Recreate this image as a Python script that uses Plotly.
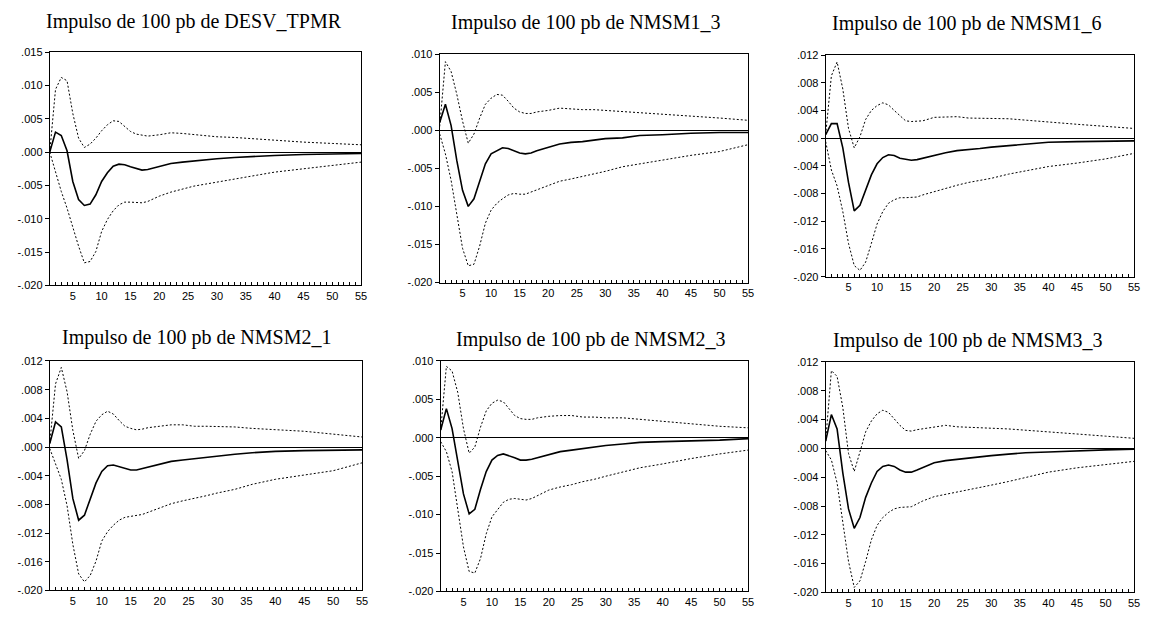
import plotly.graph_objects as go

# ---------------- data ----------------
PERIODS = [1, 2, 3, 4, 5, 6, 7, 8, 9, 10, 11, 12, 13, 14, 15, 16, 17, 18,
           20, 22, 24, 26, 28, 30, 33, 36, 40, 45, 50, 55]

X_TICK_VALS = [5, 10, 15, 20, 25, 30, 35, 40, 45, 50, 55]
X_TICK_TEXT = ["5", "10", "15", "20", "25", "30", "35", "40", "45", "50", "55"]

TITLES = ["Impulso de 100 pb de DESV_TPMR", "Impulso de 100 pb de NMSM1_3",
          "Impulso de 100 pb de NMSM1_6", "Impulso de 100 pb de NMSM2_1",
          "Impulso de 100 pb de NMSM2_3", "Impulso de 100 pb de NMSM3_3"]

Y_TICKS_005_A = [-0.020, -0.015, -0.010, -0.005, 0.000, 0.005, 0.010, 0.015]
Y_TEXT_005_A = ["-.020", "-.015", "-.010", "-.005", ".000", ".005", ".010", ".015"]
Y_TICKS_005_B = [-0.020, -0.015, -0.010, -0.005, 0.000, 0.005, 0.010]
Y_TEXT_005_B = ["-.020", "-.015", "-.010", "-.005", ".000", ".005", ".010"]
Y_TICKS_004 = [-0.020, -0.016, -0.012, -0.008, -0.004, 0.000, 0.004, 0.008, 0.012]
Y_TEXT_004 = ["-.020", "-.016", "-.012", "-.008", "-.004", ".000", ".004", ".008", ".012"]

Y_RANGES = [[-0.020, 0.015], [-0.020, 0.010], [-0.020, 0.012],
            [-0.020, 0.012], [-0.020, 0.010], [-0.020, 0.012]]

# Panel 1: DESV_TPMR
IRF_DESV_TPMR = [0.0000, 0.0030, 0.0025, 0.0002, -0.0044, -0.0071, -0.0080, -0.0078, -0.0064, -0.0044,
                 -0.0031, -0.0021, -0.0018, -0.0019, -0.0022, -0.0025, -0.0027, -0.0026,
                 -0.0021, -0.0017, -0.0015, -0.0013, -0.0012, -0.0010, -0.0008, -0.00065,
                 -0.0005, -0.00035, -0.00025, -0.0002]
UP_DESV_TPMR = [0.0000, 0.0094, 0.0112, 0.0107, 0.0058, 0.0021, 0.0007, 0.0012, 0.0021, 0.0032,
                0.0041, 0.0047, 0.0046, 0.0038, 0.0031, 0.0027, 0.0025, 0.0024,
                0.0026, 0.0029, 0.0028, 0.0026, 0.0024, 0.0023, 0.0022, 0.0020,
                0.0018, 0.0015, 0.0013, 0.0011]
LO_DESV_TPMR = [0.0000, -0.0031, -0.0059, -0.0084, -0.0114, -0.0141, -0.0166, -0.0164, -0.0149, -0.0119,
                -0.0101, -0.0088, -0.0079, -0.0075, -0.0075, -0.0076, -0.0076, -0.0074,
                -0.0066, -0.0060, -0.0055, -0.0051, -0.0048, -0.0045, -0.0040, -0.0035,
                -0.0030, -0.0025, -0.0020, -0.0015]

# Panel 2: NMSM1_3
IRF_NMSM1_3 = [0.0010, 0.0034, 0.0006, -0.0040, -0.0079, -0.0100, -0.0090, -0.0066, -0.0044, -0.0031,
               -0.0027, -0.0023, -0.0024, -0.0027, -0.0030, -0.0031, -0.0030, -0.0027,
               -0.0022, -0.0018, -0.0016, -0.0015, -0.0013, -0.0011, -0.0010, -0.0007,
               -0.0006, -0.0004, -0.0003, -0.0003]
UP_NMSM1_3 = [0.0005, 0.0090, 0.0077, 0.0047, 0.0012, -0.0017, -0.0005, 0.0016, 0.0034, 0.0042,
              0.0047, 0.0046, 0.0038, 0.0029, 0.0024, 0.0022, 0.0022, 0.0024,
              0.0026, 0.0029, 0.0028, 0.0027, 0.0027, 0.0026, 0.0025, 0.0023,
              0.0021, 0.0019, 0.0016, 0.0013]
LO_NMSM1_3 = [-0.0005, -0.0031, -0.0066, -0.0113, -0.0155, -0.0178, -0.0176, -0.0152, -0.0122, -0.0105,
              -0.0096, -0.0090, -0.0085, -0.0083, -0.0084, -0.0084, -0.0081, -0.0078,
              -0.0072, -0.0067, -0.0064, -0.0061, -0.0057, -0.0054, -0.0048, -0.0044,
              -0.0039, -0.0033, -0.0028, -0.0019]

# Panel 3: NMSM1_6
IRF_NMSM1_6 = [0.0005, 0.0021, 0.0021, -0.0014, -0.0064, -0.0105, -0.0097, -0.0076, -0.0053, -0.0037,
               -0.0028, -0.0024, -0.0025, -0.0029, -0.0031, -0.0032, -0.0031, -0.0029,
               -0.0024, -0.0021, -0.0018, -0.0017, -0.0015, -0.0013, -0.0011, -0.0008,
               -0.0006, -0.0005, -0.0004, -0.0004]
UP_NMSM1_6 = [0.0005, 0.0090, 0.0110, 0.0071, 0.0014, -0.0014, 0.0002, 0.0027, 0.0040, 0.0047,
              0.0051, 0.0048, 0.0040, 0.0032, 0.0025, 0.0024, 0.0024, 0.0025,
              0.0030, 0.0031, 0.0031, 0.0029, 0.0029, 0.0029, 0.0028, 0.0026,
              0.0023, 0.0020, 0.0017, 0.0014]
LO_NMSM1_6 = [-0.0005, -0.0046, -0.0069, -0.0106, -0.0152, -0.0184, -0.0191, -0.0179, -0.0152, -0.0124,
              -0.0106, -0.0094, -0.0089, -0.0086, -0.0086, -0.0086, -0.0085, -0.0082,
              -0.0077, -0.0073, -0.0068, -0.0064, -0.0061, -0.0058, -0.0052, -0.0047,
              -0.0041, -0.0036, -0.0030, -0.0022]

# Panel 4: NMSM2_1
IRF_NMSM2_1 = [0.0005, 0.0035, 0.0028, -0.0018, -0.0072, -0.0102, -0.0095, -0.0072, -0.0050, -0.0034,
               -0.0026, -0.0025, -0.0027, -0.0029, -0.0032, -0.0032, -0.0030, -0.0028,
               -0.0024, -0.0020, -0.0018, -0.0016, -0.0015, -0.0013, -0.0010, -0.0008,
               -0.0006, -0.0005, -0.0004, -0.0004]
UP_NMSM2_1 = [0.0005, 0.0088, 0.0111, 0.0077, 0.0023, -0.0016, -0.0005, 0.0018, 0.0036, 0.0045,
              0.0050, 0.0046, 0.0037, 0.0029, 0.0026, 0.0024, 0.0025, 0.0027,
              0.0029, 0.0031, 0.0031, 0.0029, 0.0029, 0.0029, 0.0028, 0.0026,
              0.0024, 0.0022, 0.0018, 0.0014]
LO_NMSM2_1 = [-0.0002, -0.0023, -0.0045, -0.0082, -0.0136, -0.0177, -0.0188, -0.0179, -0.0159, -0.0131,
              -0.0118, -0.0109, -0.0102, -0.0098, -0.0097, -0.0096, -0.0094, -0.0091,
              -0.0085, -0.0079, -0.0075, -0.0072, -0.0068, -0.0064, -0.0059, -0.0052,
              -0.0045, -0.0039, -0.0033, -0.0022]

# Panel 5: NMSM2_3
IRF_NMSM2_3 = [0.0010, 0.0038, 0.0012, -0.0031, -0.0073, -0.0099, -0.0093, -0.0067, -0.0044, -0.0029,
               -0.0023, -0.0021, -0.0023, -0.0026, -0.0029, -0.0029, -0.0028, -0.0026,
               -0.0021, -0.0018, -0.0016, -0.0014, -0.0012, -0.0010, -0.0008, -0.0006,
               -0.0005, -0.0004, -0.0003, -0.0001]
UP_NMSM2_3 = [0.0010, 0.0093, 0.0087, 0.0059, 0.0012, -0.0020, -0.0012, 0.0014, 0.0035, 0.0045,
              0.0049, 0.0047, 0.0038, 0.0029, 0.0025, 0.0024, 0.0024, 0.0026,
              0.0028, 0.0029, 0.0029, 0.0027, 0.0027, 0.0026, 0.0026, 0.0024,
              0.0021, 0.0018, 0.0015, 0.0013]
LO_NMSM2_3 = [-0.0005, -0.0018, -0.0044, -0.0091, -0.0142, -0.0174, -0.0176, -0.0157, -0.0125, -0.0103,
              -0.0093, -0.0084, -0.0080, -0.0079, -0.0080, -0.0081, -0.0079, -0.0075,
              -0.0068, -0.0064, -0.0061, -0.0057, -0.0054, -0.0050, -0.0044, -0.0039,
              -0.0034, -0.0027, -0.0021, -0.0016]

# Panel 6: NMSM3_3
IRF_NMSM3_3 = [0.0010, 0.0047, 0.0027, -0.0034, -0.0084, -0.0111, -0.0096, -0.0068, -0.0048, -0.0032,
               -0.0025, -0.0023, -0.0025, -0.0030, -0.0033, -0.0033, -0.0030, -0.0027,
               -0.0020, -0.0017, -0.0015, -0.0013, -0.0011, -0.0010, -0.0008, -0.0006,
               -0.0005, -0.0003, -0.0002, -0.0001]
UP_NMSM3_3 = [0.0010, 0.0108, 0.0100, 0.0057, -0.0007, -0.0032, -0.0005, 0.0023, 0.0038, 0.0048,
              0.0053, 0.0050, 0.0041, 0.0032, 0.0025, 0.0024, 0.0026, 0.0027,
              0.0030, 0.0032, 0.0030, 0.0029, 0.0028, 0.0028, 0.0027, 0.0025,
              0.0023, 0.0020, 0.0017, 0.0014]
LO_NMSM3_3 = [-0.0003, -0.0016, -0.0048, -0.0102, -0.0157, -0.0193, -0.0184, -0.0157, -0.0127, -0.0107,
              -0.0096, -0.0089, -0.0084, -0.0082, -0.0082, -0.0081, -0.0077, -0.0073,
              -0.0067, -0.0064, -0.0061, -0.0057, -0.0054, -0.0051, -0.0046, -0.0040,
              -0.0033, -0.0027, -0.0023, -0.0018]

PANELS = [
    (IRF_DESV_TPMR, UP_DESV_TPMR, LO_DESV_TPMR, Y_TICKS_005_A, Y_TEXT_005_A),
    (IRF_NMSM1_3, UP_NMSM1_3, LO_NMSM1_3, Y_TICKS_005_B, Y_TEXT_005_B),
    (IRF_NMSM1_6, UP_NMSM1_6, LO_NMSM1_6, Y_TICKS_004, Y_TEXT_004),
    (IRF_NMSM2_1, UP_NMSM2_1, LO_NMSM2_1, Y_TICKS_004, Y_TEXT_004),
    (IRF_NMSM2_3, UP_NMSM2_3, LO_NMSM2_3, Y_TICKS_005_B, Y_TEXT_005_B),
    (IRF_NMSM3_3, UP_NMSM3_3, LO_NMSM3_3, Y_TICKS_004, Y_TEXT_004),
]

# ---------------- layout (pixel boxes of each plot frame) ----------------
W, H = 1151, 620
BOXES = [(50, 363, 47, 285), (442, 752, 49, 282), (830, 1140, 50, 276),
         (50, 364, 362, 596), (443, 752, 362, 597), (830, 1140, 363, 598)]
TITLE_POS = [(195, 16), (589, 17), (972, 18), (198, 338), (594, 340), (973, 341)]

TICK_FONT = dict(family="Liberation Sans, Arial, sans-serif", size=11, color="black")
TITLE_FONT = dict(family="Liberation Serif, Times New Roman, serif", size=20, color="black")

fig = go.Figure()
layout = dict(width=W, height=H, margin=dict(l=0, r=0, t=0, b=0), autosize=False,
              paper_bgcolor="white", plot_bgcolor="white", showlegend=False,
              annotations=[])

for i, (irf, up, lo, yt, ytt) in enumerate(PANELS):
    n = "" if i == 0 else str(i + 1)
    xa, ya = "x" + n, "y" + n
    for series, width, dash in ((up, 1, "2px,2px"), (lo, 1, "2px,2px"), (irf, 1.6, "solid")):
        fig.add_trace(go.Scatter(x=PERIODS, y=series, mode="lines", xaxis=xa, yaxis=ya,
                                 line=dict(color="black", width=width, dash=dash),
                                 hoverinfo="skip"))
    x0, x1, y0, y1 = BOXES[i]
    layout["xaxis" + n] = dict(
        domain=[x0 / W, x1 / W], anchor=ya, range=[1, 55],
        tickvals=X_TICK_VALS, ticktext=X_TICK_TEXT, ticks="inside", ticklen=3,
        tickcolor="black", tickwidth=1,
        minor=dict(dtick=1, tick0=0, ticks="inside", ticklen=3, tickcolor="black", tickwidth=1),
        showline=True, mirror=True, linecolor="black", linewidth=1,
        showgrid=False, zeroline=False, tickfont=TICK_FONT, fixedrange=True)
    layout["yaxis" + n] = dict(
        domain=[1 - y1 / H, 1 - y0 / H], anchor=xa, range=Y_RANGES[i],
        tickvals=yt, ticktext=ytt, ticks="outside", ticklen=4,
        tickcolor="black", tickwidth=1,
        showline=True, mirror=True, linecolor="black", linewidth=1,
        showgrid=False, zeroline=True, zerolinecolor="black", zerolinewidth=1,
        tickfont=TICK_FONT, fixedrange=True)
    tx, ty = TITLE_POS[i]
    layout["annotations"].append(dict(
        text=TITLES[i], xref="paper", yref="paper", x=tx / W, y=1 - ty / H,
        xanchor="center", yanchor="middle", showarrow=False, font=TITLE_FONT))

fig.update_layout(**layout)
fig.write_html("out.html", config={"displayModeBar": False},
               post_script="document.body.style.margin='0';document.body.style.padding='0';document.body.style.overflow='hidden';")
